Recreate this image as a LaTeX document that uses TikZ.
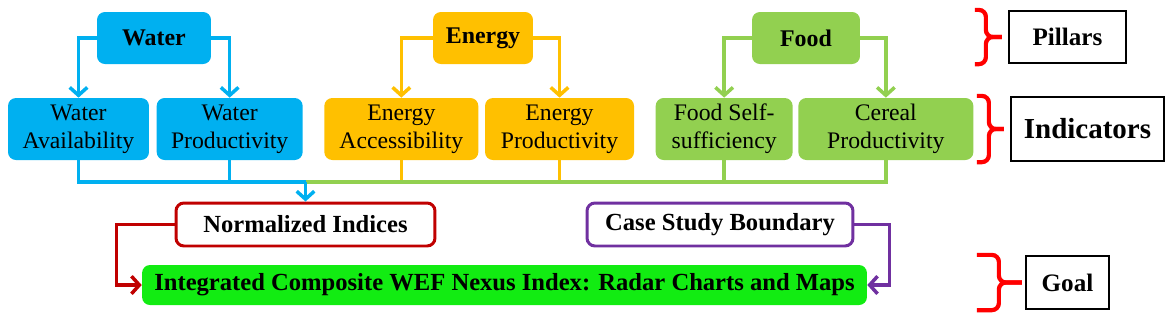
\documentclass[tikz,border=0pt]{standalone}
\usepackage{fontspec}
\setmainfont{Liberation Serif}
\usepackage{xcolor}
\definecolor{WaterBlue}{HTML}{00B0F0}
\definecolor{EnergyGold}{HTML}{FFC000}
\definecolor{FoodGreen}{HTML}{92D050}
\definecolor{GoalGreen}{HTML}{12EC12}
\definecolor{IndexRed}{HTML}{C00000}
\definecolor{CasePurple}{HTML}{7030A0}
\definecolor{BraceRed}{HTML}{FF0000}
\usepackage{tikz}
\usetikzlibrary{arrows.meta,positioning}

\begin{document}
\begin{tikzpicture}[
  x=0.02cm,y=-0.02cm,
  pillar/.style={rounded corners=4.5pt,align=center,minimum height=1.04cm,font=\fontsize{13.6}{16}\selectfont\bfseries},
  indicator/.style={rounded corners=4.5pt,align=center,minimum height=1.24cm,font=\fontsize{13.5}{16}\selectfont},
  stagebox/.style={draw,line width=1.7pt,fill=white,rounded corners=4.5pt,minimum height=0.86cm,font=\fontsize{14}{16}\selectfont\bfseries},
  tagbox/.style={draw=black,line width=1.3pt,font=\fontsize{14.3}{16}\selectfont\bfseries},
  link/.style={line width=2pt},
  arrow/.style={link,-{Straight Barb[length=4.5pt,width=10pt]}},
  redbrace/.style={draw=BraceRed,line width=2.4pt,rounded corners=4pt}
]
  \useasboundingbox (0,0) rectangle (1170,319);

  % pillars
  \node[pillar,fill=WaterBlue,minimum width=2.28cm] (water) at (154,38) {Water};
  \node[pillar,fill=EnergyGold,minimum width=2.0cm] (energy) at (483,38) {Energy};
  \node[pillar,fill=FoodGreen,minimum width=2.16cm] (food) at (806,38) {Food};

  % indicators
  \node[indicator,fill=WaterBlue,minimum width=2.82cm] (wavail) at (78.5,129) {Water\\Availability};
  \node[indicator,fill=WaterBlue,minimum width=2.92cm,right=0.14cm of wavail] (wprod) {Water\\Productivity};
  \node[indicator,fill=EnergyGold,minimum width=3.08cm,right=0.42cm of wprod] (eacc) {Energy\\Accessibility};
  \node[indicator,fill=EnergyGold,minimum width=2.98cm,right=0.12cm of eacc] (eprod) {Energy\\Productivity};
  \node[indicator,fill=FoodGreen,minimum width=2.74cm,right=0.42cm of eprod] (fself) {Food Self-\\sufficiency};
  \node[indicator,fill=FoodGreen,minimum width=3.5cm,right=0.1cm of fself] (cprod) {Cereal\\Productivity};

  % stages and goal
  \node[stagebox,draw=IndexRed,minimum width=5.18cm] (norm) at (305.5,224.5) {Normalized Indices};
  \node[stagebox,draw=CasePurple,minimum width=5.32cm] (case) at (720,224.5) {Case Study Boundary};
  \node[rounded corners=4.5pt,fill=GoalGreen,minimum width=14.5cm,minimum height=0.8cm,font=\fontsize{14}{16}\selectfont\bfseries] (goal) at (504.5,285) {Integrated Composite WEF Nexus Index: Radar Charts and Maps};

  % level tags
  \node[tagbox,minimum width=2.34cm,minimum height=1.04cm] (pil) at (1067.5,37) {Pillars};
  \node[tagbox,minimum width=3.06cm,minimum height=1.28cm,font=\fontsize{16.5}{18}\selectfont\bfseries] (ind) at (1087.5,129) {Indicators};
  \node[tagbox,minimum width=1.66cm,minimum height=1.06cm] (gl) at (1067.5,282.5) {Goal};

  \draw[arrow,WaterBlue] (water.west) -| (wavail.north);
  \draw[arrow,WaterBlue] (water.east) -| (wprod.north);
  \draw[arrow,EnergyGold] (energy.west) -| (eacc.north);
  \draw[arrow,EnergyGold] (energy.east) -| (eprod.north);
  \draw[arrow,FoodGreen] (food.west) -| (fself.north);
  \draw[arrow,FoodGreen] (food.east) -| (cprod.north);

  % collector line
  \coordinate (row) at (0,182);
  \coordinate (hub) at (norm.north |- row);
  \draw[link,EnergyGold] (eacc.south) -- (eacc.south |- hub);
  \draw[link,EnergyGold] (eprod.south) -- (eprod.south |- hub);
  \draw[link,FoodGreen] (fself.south) -- (fself.south |- hub);
  \draw[link,FoodGreen] (cprod.south) |- (hub);
  \draw[link,WaterBlue] (wprod.south) -- (wprod.south |- hub);
  \draw[link,WaterBlue] (wavail.south) |- (hub);
  \draw[arrow,WaterBlue] (hub) -- (norm.north);

  \draw[arrow,IndexRed] (norm.west) -- ++(-58,0) |- (goal.west);
  \draw[arrow,CasePurple] (case.east) -- ++(35,0) |- (goal.east);

  % braces
  \draw[redbrace] ([xshift=-0.66cm]pil.north west) -- ++(11,0) |- ([xshift=-0.12cm]pil.west);
  \draw[redbrace] ([xshift=-0.66cm]pil.south west) -- ++(11,0) |- ([xshift=-0.12cm]pil.west);
  \draw[redbrace] ([xshift=-0.66cm]ind.north west) -- ++(12,0) |- ([xshift=-0.12cm]ind.west);
  \draw[redbrace] ([xshift=-0.66cm]ind.south west) -- ++(12,0) |- ([xshift=-0.12cm]ind.west);
  \draw[redbrace] ([xshift=-0.96cm]gl.north west) -- ++(22,0) |- ([xshift=-0.06cm]gl.west);
  \draw[redbrace] ([xshift=-0.96cm]gl.south west) -- ++(22,0) |- ([xshift=-0.06cm]gl.west);
\end{tikzpicture}
\end{document}
